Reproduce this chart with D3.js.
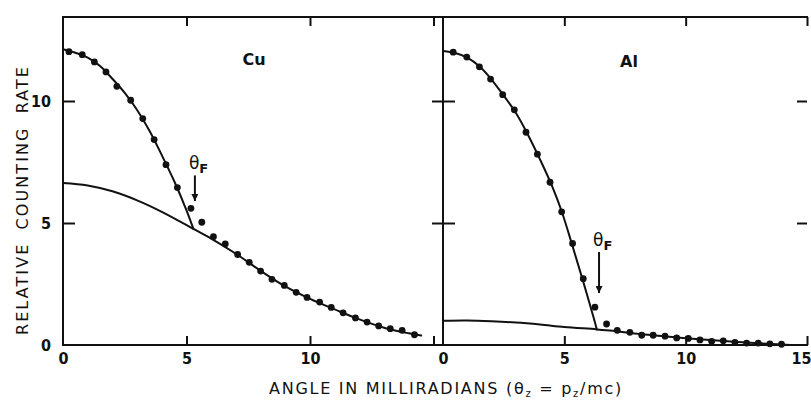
<!DOCTYPE html>
<html>
<head>
<meta charset="utf-8">
<script src="https://cdn.jsdelivr.net/npm/d3@7/dist/d3.min.js"></script>
<style>
  html, body { margin: 0; padding: 0; background: #fff; }
  svg { display: block; }
</style>
</head>
<body>
<svg id="chart" width="811" height="400"></svg>
<script>
// Angular correlation of positron annihilation radiation in Cu and Al.
// Each series is a list of [angle (mrad), relative counting rate].

const xTicks = [0, 5, 10, 15];
const yTicks = [0, 5, 10];

// Cu: measured points
const cuPoints = [
  [0.24, 12.02], [0.78, 11.90], [1.27, 11.60], [1.74, 11.19], [2.18, 10.60],
  [2.74, 10.03], [3.23, 9.28], [3.69, 8.42], [4.17, 7.39], [4.63, 6.45],
  [5.18, 5.60], [5.62, 5.03], [6.09, 4.44], [6.57, 4.14], [7.07, 3.71],
  [7.54, 3.39], [8.00, 3.03], [8.46, 2.69], [8.96, 2.44], [9.44, 2.16],
  [9.88, 1.95], [10.39, 1.76], [10.86, 1.54], [11.34, 1.32], [11.84, 1.11],
  [12.31, 0.94], [12.78, 0.78], [13.25, 0.67], [13.73, 0.60], [14.23, 0.42]
];
// Cu: conduction-electron (parabolic) fit, ending at the Fermi cutoff
const cuFermiCurve = [
  [0, 12.12], [0.5, 11.98], [1, 11.78], [1.5, 11.43], [2, 10.91], [2.5, 10.33],
  [3, 9.63], [3.5, 8.78], [4, 7.78], [4.5, 6.72], [5, 5.52], [5.28, 4.76]
];
// Cu: core-electron (broad) component
const cuCoreCurve = [
  [0, 6.64], [1, 6.54], [2, 6.30], [3, 5.93], [4, 5.46], [5.28, 4.76],
  [6, 4.36], [7, 3.74], [8, 3.04], [9, 2.40], [10, 1.89], [11, 1.46],
  [12, 1.05], [13, 0.71], [14, 0.48], [14.5, 0.39]
];

// Al: measured points
const alPoints = [
  [0.42, 12.00], [0.98, 11.80], [1.50, 11.40], [1.96, 10.90], [2.46, 10.26],
  [2.94, 9.64], [3.42, 8.72], [3.89, 7.82], [4.41, 6.67], [4.89, 5.46],
  [5.34, 4.16], [5.78, 2.72], [6.26, 1.55], [6.74, 0.86], [7.18, 0.60],
  [7.70, 0.52], [8.19, 0.40], [8.66, 0.40], [9.15, 0.36], [9.63, 0.29],
  [10.11, 0.27], [10.59, 0.21], [11.07, 0.15], [11.55, 0.17], [12.03, 0.11],
  [12.51, 0.08], [12.99, 0.08], [13.47, 0.05], [13.95, 0.03]
];
// Al: conduction-electron fit, ending at the Fermi cutoff
const alFermiCurve = [
  [0, 12.05], [0.5, 11.97], [1, 11.78], [1.5, 11.42], [2, 10.88], [2.5, 10.22],
  [3, 9.52], [3.5, 8.62], [4, 7.60], [4.5, 6.50], [4.9, 5.45], [5.33, 4.08],
  [5.76, 2.66], [6.2, 1.15], [6.34, 0.64]
];
// Al: core-electron component
const alCoreCurve = [
  [0, 0.99], [1, 1.00], [2, 0.97], [3, 0.92], [4, 0.84], [5, 0.74],
  [6.34, 0.64], [7, 0.58], [8, 0.46], [9, 0.37], [10, 0.28], [11, 0.20],
  [12, 0.13], [13, 0.07], [14, 0.02], [14.3, 0.0]
];

// Fermi cutoff markers: angle, arrow top and arrow tip (counting-rate units)
const cuFermiMark = [5.34, 6.95, 5.90];
const alFermiMark = [6.43, 3.81, 2.13];

const svg = d3.select("#chart");
const INK = "#111";
const tickFont = "'Liberation Sans Narrow', 'DejaVu Sans Condensed', sans-serif";
const textFont = "'DejaVu Sans', sans-serif";

const frameTop = 17, frameBottom = 345;
const y = d3.scaleLinear().domain([0, 10]).range([frameBottom, 101]);

const panels = [
  { name: "Cu", range: [63, 433.5], points: cuPoints, fermi: cuFermiCurve, core: cuCoreCurve,
    mark: cuFermiMark, xLabels: [0, 5, 10], nameAt: [254, 65] },
  { name: "Al", range: [443, 807], points: alPoints, fermi: alFermiCurve, core: alCoreCurve,
    mark: alFermiMark, xLabels: [0, 5, 10, 15], nameAt: [629, 67] }
];

// Arrowhead marker for the Fermi cutoff arrows
svg.append("defs").append("marker")
  .attr("id", "head")
  .attr("viewBox", "0 0 10 10")
  .attr("refX", 10).attr("refY", 5)
  .attr("markerWidth", 9).attr("markerHeight", 7)
  .attr("markerUnits", "userSpaceOnUse")
  .attr("orient", "auto")
  .append("path").attr("d", "M0,0 L10,5 L0,10 Z").attr("fill", INK);

function styleAxis(g, withText) {
  g.select(".domain").remove();
  g.selectAll(".tick line").attr("stroke", INK).attr("stroke-width", 2);
  g.selectAll(".tick text")
    .attr("fill", INK)
    .attr("font-family", tickFont)
    .attr("font-weight", "bold")
    .attr("font-size", 16);
  if (!withText) g.selectAll(".tick text").remove();
}

// Frame: shared top and bottom rules, left axis and the panel divider
const frame = svg.append("g").attr("stroke", INK).attr("stroke-width", 2).attr("fill", "none");
frame.append("line").attr("x1", 62).attr("x2", 808).attr("y1", frameTop).attr("y2", frameTop);
frame.append("line").attr("x1", 62).attr("x2", 808).attr("y1", frameBottom).attr("y2", frameBottom);
frame.append("line").attr("x1", 63).attr("x2", 63).attr("y1", frameTop).attr("y2", frameBottom);
frame.append("line").attr("x1", 443).attr("x2", 443).attr("y1", frameTop).attr("y2", frameBottom);

panels.forEach((p, i) => {
  const x = d3.scaleLinear().domain([0, 15]).range(p.range);

  // bottom ticks point up, labelled below
  const gb = svg.append("g").attr("transform", `translate(0,${frameBottom})`)
    .call(d3.axisBottom(x).tickValues(xTicks).tickSizeInner(-9).tickSizeOuter(0).tickPadding(8)
      .tickFormat(d => p.xLabels.includes(d) ? d : ""));
  styleAxis(gb, true);
  gb.selectAll(".tick").filter(d => d === 0).select("line").remove();
  // the last label sits at the page edge; keep it inside
  gb.selectAll(".tick").filter(d => d === 15).select("text")
    .attr("text-anchor", "end").attr("dx", 4);

  // top ticks point down
  const gt = svg.append("g").attr("transform", `translate(0,${frameTop})`)
    .call(d3.axisTop(x).tickValues(xTicks.slice(1)).tickSizeInner(-9).tickSizeOuter(0));
  styleAxis(gt, false);

  const x0 = p.range[0];
  if (i === 0) {
    const gl = svg.append("g").attr("transform", `translate(${x0},0)`)
      .call(d3.axisLeft(y).tickValues(yTicks).tickSizeInner(-12).tickSizeOuter(0).tickPadding(12));
    styleAxis(gl, true);
    gl.selectAll(".tick").filter(d => d === 0).select("line").remove();
  } else {
    // divider carries ticks on both sides
    const gl = svg.append("g").attr("transform", `translate(${x0},0)`)
      .call(d3.axisLeft(y).tickValues(yTicks.slice(1)).tickSizeInner(11).tickSizeOuter(0));
    styleAxis(gl, false);
    const gr = svg.append("g").attr("transform", `translate(${x0},0)`)
      .call(d3.axisRight(y).tickValues(yTicks.slice(1)).tickSizeInner(12).tickSizeOuter(0));
    styleAxis(gr, false);
    // right edge ticks point inward
    const ge = svg.append("g").attr("transform", `translate(${p.range[1]},0)`)
      .call(d3.axisRight(y).tickValues(yTicks.slice(1)).tickSizeInner(-10).tickSizeOuter(0));
    styleAxis(ge, false);
  }

  const line = d3.line().x(d => x(d[0])).y(d => y(d[1])).curve(d3.curveCatmullRom.alpha(0.5));
  const curves = svg.append("g").attr("fill", "none").attr("stroke", INK)
    .attr("stroke-width", 2).attr("stroke-linejoin", "round").attr("stroke-linecap", "round");
  curves.append("path").attr("d", line(p.core));
  curves.append("path").attr("d", line(p.fermi));

  svg.append("g").attr("fill", INK)
    .selectAll("circle").data(p.points).join("circle")
    .attr("cx", d => x(d[0])).attr("cy", d => y(d[1])).attr("r", 3.4);

  // element label
  svg.append("text").attr("x", p.nameAt[0]).attr("y", p.nameAt[1])
    .attr("text-anchor", "middle").attr("font-family", textFont)
    .attr("font-weight", "bold").attr("font-size", 16).attr("fill", INK)
    .text(p.name);

  // Fermi cutoff arrow and label
  const [ma, m0, m1] = p.mark;
  svg.append("line")
    .attr("x1", x(ma)).attr("x2", x(ma)).attr("y1", y(m0)).attr("y2", y(m1))
    .attr("stroke", INK).attr("stroke-width", 2).attr("marker-end", "url(#head)");
  const lbl = svg.append("text")
    .attr("x", x(ma) - 6).attr("y", y(m0) - 6)
    .attr("font-family", textFont).attr("fill", INK).attr("font-size", 17);
  lbl.append("tspan").text("θ");
  lbl.append("tspan").attr("dy", 4).attr("font-size", 13).attr("font-weight", "bold").text("F");
});

// Axis titles, spread to their measured widths
function spread(sel, target) {
  const n = sel.text().length;
  const w = sel.node().getComputedTextLength();
  sel.attr("letter-spacing", Math.max(0, (target - w) / (n - 1)));
}

const yTitle = svg.append("text")
  .attr("transform", "translate(28,200) rotate(-90)")
  .attr("text-anchor", "middle")
  .attr("font-family", textFont).attr("font-size", 16).attr("fill", INK)
  .attr("word-spacing", 6)
  .text("RELATIVE COUNTING RATE");
spread(yTitle, 268);

const xTitle = svg.append("text")
  .attr("x", 269).attr("y", 394)
  .attr("font-family", textFont).attr("font-size", 16).attr("fill", INK);
xTitle.append("tspan").text("ANGLE IN MILLIRADIANS  (θ");
xTitle.append("tspan").attr("font-size", 10).attr("dy", 3).text("z");
xTitle.append("tspan").attr("dy", -3).text(" = p");
xTitle.append("tspan").attr("font-size", 10).attr("dy", 3).text("z");
xTitle.append("tspan").attr("dy", -3).text("/mc)");
spread(xTitle, 354);
</script>
</body>
</html>
